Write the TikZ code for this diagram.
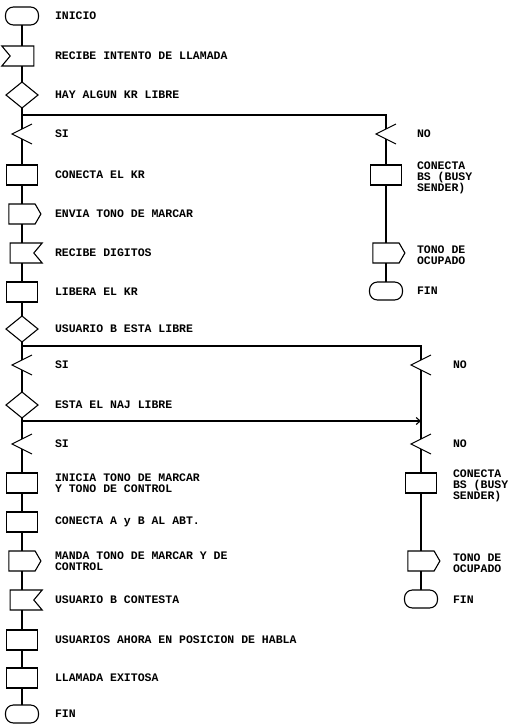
\documentclass[tikz,border=0pt]{standalone}
\usepackage{fontspec}
\setmainfont{Liberation Mono}
\usetikzlibrary{shapes.geometric,shapes.symbols,arrows.meta,calc}
\begin{document}
\begin{tikzpicture}[x=1pt,y=-1pt,
  line width=1.1pt,
  every node/.style={inner sep=0pt, outer sep=0pt},
  term/.style={draw, rectangle, rounded corners=8pt, minimum width=33pt, minimum height=18pt},
  proc/.style={draw, rectangle, minimum width=31pt, minimum height=20pt},
  dec/.style={draw, diamond, minimum width=32pt, minimum height=26pt},
  sendbox/.style={draw, signal, signal to=east, signal from=nowhere, signal pointer angle=120, minimum width=32pt, minimum height=20pt},
  recvl/.style={draw, signal, signal from=west, signal to=nowhere, signal pointer angle=100, minimum width=32pt, minimum height=20pt},
  recvr/.style={draw, signal, signal from=east, signal to=nowhere, signal pointer angle=100, minimum width=32pt, minimum height=20pt},
  sw/.style={minimum width=22pt, minimum height=10pt},
  lbl/.style={anchor=west, font=\fontsize{11.5}{11}\selectfont\bfseries, align=left},
  swline/.style={line width=1.1pt},
]
\path[use as bounding box] (0,0) rectangle (526,724);

% ---- main column
\node[term]  (t1) at (22,16) {};
\node[recvl] (r1) at (22,56) {};
\node[dec]   (d1) at (22,95) {};
\node[sw]    (s1) at (22,134) {};
\node[proc]  (p1) at (22,175) {};
\node[sendbox] (e1) at (22,214) {};
\node[recvr] (r2) at (22,253) {};
\node[proc]  (p2) at (22,292) {};
\node[dec]   (d2) at (22,329) {};
\node[sw]    (s2) at (22,365) {};
\node[dec]   (d3) at (22,405) {};
\node[sw]    (s3) at (22,444) {};
\node[proc]  (p3) at (22,483) {};
\node[proc]  (p4) at (22,522) {};
\node[sendbox] (e2) at (22,561) {};
\node[recvr] (r3) at (22,600) {};
\node[proc]  (p5) at (22,640) {};
\node[proc]  (p6) at (22,678) {};
\node[term]  (t2) at (22,714) {};

% ---- right column 1
\node[sw]    (n1) at (386,134) {};
\node[proc]  (q1) at (386,175) {};
\node[sendbox] (f1) at (386,253) {};
\node[term]  (t3) at (386,291) {};

% ---- right column 2
\node[sw]    (n2) at (421,365) {};
\node[sw]    (n3) at (421,444) {};
\node[proc]  (q2) at (421,483) {};
\node[sendbox] (f2) at (421,561) {};
\node[term]  (t4) at (421,599) {};

% ---- branch points
\coordinate (b1) at (22,115);
\coordinate (b2) at (22,346);
\coordinate (b3) at (22,421);

% ---- connectors main
\draw (t1) -- (r1);
\draw (r1) -- (d1);
\draw (d1) -- (s1.north);
\draw (s1.south) -- (p1);
\draw (p1) -- (e1);
\draw (e1) -- (r2);
\draw (r2) -- (p2);
\draw (p2) -- (d2);
\draw (d2) -- (s2.north);
\draw (s2.south) -- (d3);
\draw (d3) -- (s3.north);
\draw (s3.south) -- (p3);
\draw (p3) -- (p4);
\draw (p4) -- (e2);
\draw (e2) -- (r3);
\draw (r3) -- (p5);
\draw (p5) -- (p6);
\draw (p6) -- (t2);

% ---- connectors right
\draw (b1) -| (n1.north);
\draw (n1.south) -- (q1);
\draw (q1) -- (f1);
\draw (f1) -- (t3);
\draw (b2) -| (n2.north);
\draw (n2.south) -- (n3.north);
\draw[-{Straight Barb[length=4pt,width=7pt]}] (b3) -- (b3 -| n2);
\draw (n3.south) -- (q2);
\draw (q2) -- (f2);
\draw (f2) -- (t4);

% ---- switch symbols
\foreach \s in {s1,s2,s3,n1,n2,n3}{
  \draw[swline] ($(\s.center)+(10,-10)$) -- ($(\s.center)+(-10,0)$) -- ($(\s.center)+(10,10)$);
}

% ---- labels main
\node[lbl] (l1)  at (55,16)  {INICIO};
\node[lbl] (l2)  at (55,56)  {RECIBE INTENTO DE LLAMADA};
\node[lbl] (l3)  at (55,95)  {HAY ALGUN KR LIBRE};
\node[lbl] (l4)  at (55,134) {SI};
\node[lbl] (l5)  at (55,175) {CONECTA EL KR};
\node[lbl] (l6)  at (55,214) {ENVIA TONO DE MARCAR};
\node[lbl] (l7)  at (55,253) {RECIBE DIGITOS};
\node[lbl] (l8)  at (55,292) {LIBERA EL KR};
\node[lbl] (l9)  at (55,329) {USUARIO B ESTA LIBRE};
\node[lbl] (l10) at (55,365) {SI};
\node[lbl] (l11) at (55,405) {ESTA EL NAJ LIBRE};
\node[lbl] (l12) at (55,444) {SI};
\node[lbl] (l13) at (55,483) {INICIA TONO DE MARCAR\\Y TONO DE CONTROL};
\node[lbl] (l14) at (55,522) {CONECTA A y B AL ABT.};
\node[lbl] (l15) at (55,561) {MANDA TONO DE MARCAR Y DE\\CONTROL};
\node[lbl] (l16) at (55,600) {USUARIO B CONTESTA};
\node[lbl] (l17) at (55,640) {USUARIOS AHORA EN POSICION DE HABLA};
\node[lbl] (l18) at (55,678) {LLAMADA EXITOSA};
\node[lbl] (l19) at (55,714) {FIN};

% ---- labels right
\node[lbl] (m1) at (417,134) {NO};
\node[lbl] (m2) at (417,178) {CONECTA\\BS (BUSY\\SENDER)};
\node[lbl] (m3) at (417,255) {TONO DE\\OCUPADO};
\node[lbl] (m4) at (417,291) {FIN};
\node[lbl] (m5) at (453,365) {NO};
\node[lbl] (m6) at (453,444) {NO};
\node[lbl] (m7) at (453,486) {CONECTA\\BS (BUSY\\SENDER)};
\node[lbl] (m8) at (453,563) {TONO DE\\OCUPADO};
\node[lbl] (m9) at (453,600) {FIN};
\end{tikzpicture}
\end{document}
